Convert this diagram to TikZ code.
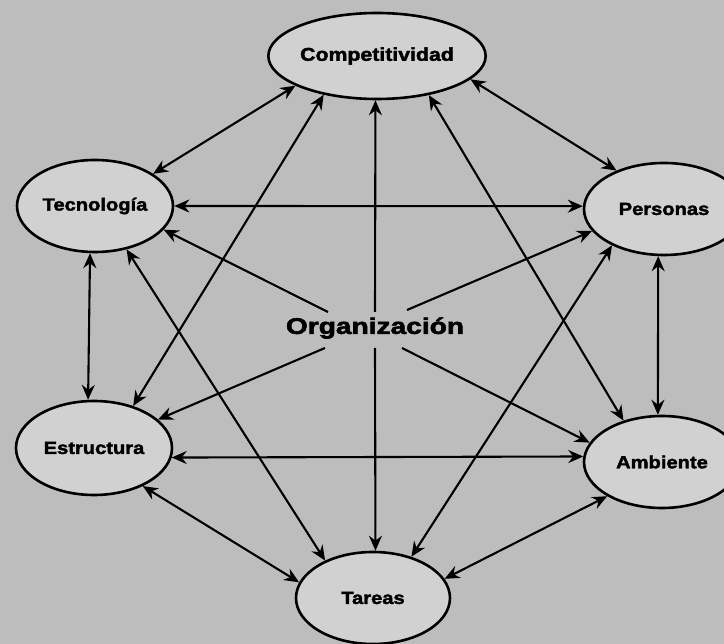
\documentclass[tikz,border=0pt]{standalone}
\usepackage{fontspec}
\newfontfamily\lbl{Liberation Sans}[FakeStretch=1.15, BoldFeatures={FakeBold=2.2}]
\newfontfamily\orgf{Liberation Sans}[FakeStretch=1.25, BoldFeatures={FakeBold=2.5}]
\usetikzlibrary{shapes.geometric,arrows.meta}
\definecolor{bgc}{gray}{0.74}
\definecolor{elc}{gray}{0.82}
\begin{document}
\begin{tikzpicture}[x=1pt,y=-1pt,
  oval/.style={ellipse, draw=black, line width=2.6pt, fill=elc, inner sep=0pt,
    font=\lbl\bfseries\fontsize{17.5}{20}\selectfont},
  tipA/.tip={Stealth[length=15pt,width=13pt,inset=5pt]},
  link/.style={line width=2.1pt, tipA-tipA},
  outlink/.style={line width=2.1pt, -tipA}]
\useasboundingbox (0,0) rectangle (724,644);
\clip (0,0) rectangle (724,644);
\fill[bgc] (0,0) rectangle (724,644);

\node[oval, minimum width=182pt, minimum height=86pt,
  font=\lbl\bfseries\fontsize{18.5}{21}\selectfont] (comp) at (377,56) {Competitividad};
\node[oval, minimum width=156pt, minimum height=92pt] (tec) at (95,206) {Tecnología};
\node[oval, minimum width=160pt, minimum height=92pt] (per) at (664,209) {Personas};
\node[oval, minimum width=156pt, minimum height=94pt] (est) at (94,448) {Estructura};
\node[oval, minimum width=156pt, minimum height=92pt] (amb) at (662,462) {Ambiente};
\node[oval, minimum width=154pt, minimum height=92pt] (tar) at (373,598) {Tareas};

\node[font=\orgf\bfseries\fontsize{22.5}{26}\selectfont] (org) at (375,328) {Organización};

\coordinate (otl) at (328,312);
\coordinate (otr) at (407,310);
\coordinate (obl) at (325,348);
\coordinate (obr) at (402,348);
\coordinate (oup) at (375,312);
\coordinate (odn) at (375,348);

\draw[link] (comp.200) -- (tec.29);
\draw[link] (comp.-14) -- (per.141);
\draw[link] (comp.216) -- (est.47);
\draw[link] (comp.-37) -- (amb.133);
\draw[link] (tec.0) -- (per.178);
\draw[link] (tec.-96) -- (est.97);
\draw[link] (tec.-54) -- (tar.142);
\draw[link] (per.-97) -- (amb.95);
\draw[link] (per.215) -- (tar.47);
\draw[link] (est.-7) -- (amb.176);
\draw[link] (est.-38) -- (tar.168);
\draw[link] (amb.212) -- (tar.15);

\draw[outlink] (otl) -- (tec.-19);
\draw[outlink] (otr) -- (per.197);
\draw[outlink] (obl) -- (est.24);
\draw[outlink] (obr) -- (amb.165);
\draw[outlink] (oup) -- (comp.-92);
\draw[outlink] (odn) -- (tar.87);
\end{tikzpicture}
\end{document}
